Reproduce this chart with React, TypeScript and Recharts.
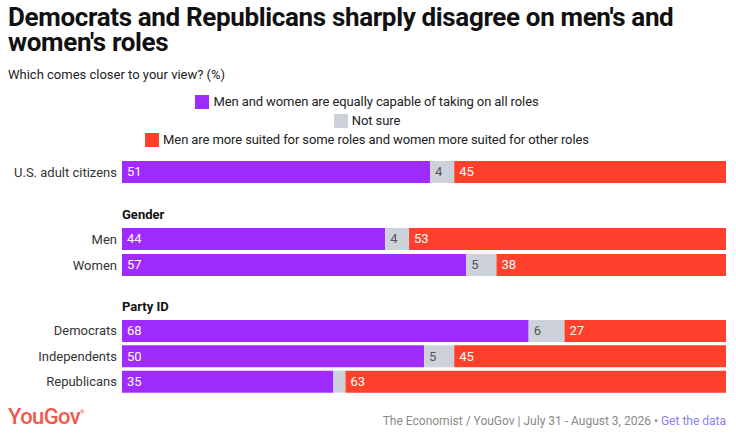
import { BarChart, Bar, XAxis, YAxis, LabelList } from 'recharts'

const categories = ['U.S. adult citizens', 'Men', 'Women', 'Democrats', 'Independents', 'Republicans']
const groupOf = [0, 1, 1, 2, 2, 2]
const groupTitles = ['', 'Gender', 'Party ID']

const equallyCapable = [51, 44, 57, 68, 50, 35]
const notSure = [4, 4, 5, 6, 5, 2]
const moreSuited = [45, 53, 38, 27, 45, 63]

const seriesNames = [
  'Men and women are equally capable of taking on all roles',
  'Not sure',
  'Men are more suited for some roles and women more suited for other roles',
]
const seriesKeys = ['equal', 'unsure', 'suited']
const seriesColors = ['#9f2bff', '#cdd1da', '#ff412c']
const labelColors = ['#ffffff', '#555555', '#ffffff']

const FONT = 'Roboto, "Noto Sans", sans-serif'

const rows = categories.map((name, i) => ({
  name,
  group: groupOf[i],
  equal: equallyCapable[i],
  unsure: notSure[i],
  suited: moreSuited[i],
}))

function SegmentLabel(props: any) {
  const { x, y, width, height, value, fill } = props
  // too narrow for a number (e.g. the 2% not sure among Republicans)
  if (width < 16) return null
  return (
    <text x={x + 5} y={y + height / 2 + 1} fill={fill} fontSize={13} fontFamily={FONT} dominantBaseline="middle">
      {value}
    </text>
  )
}

function GroupChart({ group, top, height }: { group: number; top: number; height: number }) {
  const data = rows.filter((r) => r.group === group)
  return (
    <div style={{ position: 'absolute', left: 0, top }}>
      <BarChart
        width={736}
        height={height}
        data={data}
        layout="vertical"
        stackOffset="expand"
        margin={{ top: 0, right: 10, bottom: 0, left: 0 }}
        barCategoryGap={0}
      >
        <XAxis type="number" domain={[0, 1]} hide />
        <YAxis
          type="category"
          dataKey="name"
          width={122}
          axisLine={false}
          tickLine={false}
          tickSize={0}
          tickMargin={5}
          tick={{ fill: '#333', fontSize: 13, fontFamily: FONT }}
          interval={0}
        />
        {seriesKeys.map((k, i) => (
          <Bar key={k} dataKey={k} stackId="a" fill={seriesColors[i]} barSize={22} isAnimationActive={false}>
            <LabelList dataKey={k} content={(p: any) => <SegmentLabel {...p} fill={labelColors[i]} />} />
          </Bar>
        ))}
      </BarChart>
    </div>
  )
}

export default function App() {
  return (
    <div style={{ position: 'absolute', left: 0, top: 0, width: 736, height: 435, background: '#fff', fontFamily: FONT, overflow: 'hidden' }}>
      <div style={{ position: 'absolute', left: 8, top: 5, width: 690, fontSize: 26, fontWeight: 700, lineHeight: '25px', letterSpacing: -0.35, color: '#111' }}>
        Democrats and Republicans sharply disagree on men's and women's roles
      </div>
      <div style={{ position: 'absolute', left: 8, top: 67, fontSize: 13, color: '#222' }}>
        Which comes closer to your view? (%)
      </div>
      <div style={{ position: 'absolute', left: 0, top: 92, width: 734, textAlign: 'center', fontSize: 13, color: '#222', letterSpacing: -0.1 }}>
        {seriesNames.map((n, i) => (
          <div key={n} style={{ height: 19, lineHeight: '19px', display: 'flex', justifyContent: 'center', alignItems: 'center' }}>
            <span style={{ display: 'inline-block', width: 14, height: 14, background: seriesColors[i], marginRight: 4 }} />
            <span>{n}</span>
          </div>
        ))}
      </div>

      <GroupChart group={0} top={159} height={26} />

      <div style={{ position: 'absolute', left: 122, top: 207, fontSize: 13, fontWeight: 700, color: '#111' }}>{groupTitles[1]}</div>
      <GroupChart group={1} top={226} height={52} />

      <div style={{ position: 'absolute', left: 122, top: 299, fontSize: 13, fontWeight: 700, color: '#111' }}>{groupTitles[2]}</div>
      <GroupChart group={2} top={318} height={76} />

      <div style={{ position: 'absolute', left: 8, top: 404, fontSize: 22, fontWeight: 500, color: '#f05a4b', letterSpacing: -0.6 }}>
        YouGov<sup style={{ fontSize: 6, verticalAlign: 'top', position: 'relative', top: 4 }}>®</sup>
      </div>
      <div style={{ position: 'absolute', right: 10, top: 414, fontSize: 12, color: '#8a8a8a', whiteSpace: 'nowrap' }}>
        The Economist / YouGov | July 31 - August 3, 2026 • <span style={{ color: '#8b7ff0' }}>Get the data</span>
      </div>
    </div>
  )
}
